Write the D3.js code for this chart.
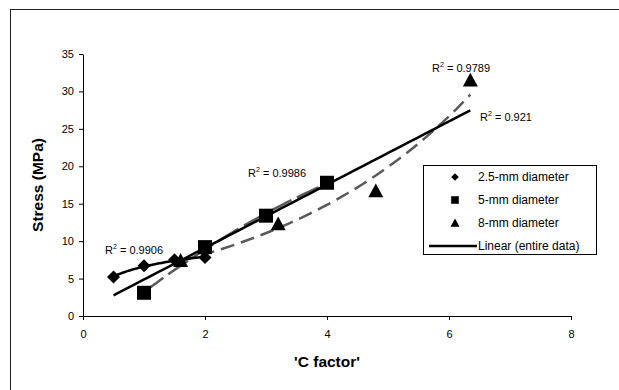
<!DOCTYPE html>
<html>
<head>
<meta charset="utf-8">
<script src="https://cdn.jsdelivr.net/npm/d3@7"></script>
<style>
  body { margin: 0; background: white; }
  text { font-family: "Liberation Sans", Arial, sans-serif; }
</style>
</head>
<body>
<div id="chart"></div>
<script>
// datos
var series = ["2.5-mm diameter", "5-mm diameter", "8-mm diameter"];
var d25x = [0.5, 1.0, 1.5, 2.0];
var d25y = [5.2, 6.7, 7.5, 7.8];
var d5x = [1.0, 2.0, 3.0, 4.0];
var d5y = [3.1, 9.2, 13.4, 17.8];
var d8x = [1.6, 3.2, 4.8, 6.35];
var d8y = [7.4, 12.3, 16.7, 31.5];
var r2Labels = ["0.9906", "0.9986", "0.9789", "0.921"];
var xTicks = [0, 2, 4, 6, 8];
var yTicks = [0, 5, 10, 15, 20, 25, 30, 35];

var width = 619, height = 390;
var margin = { top: 54, left: 83, right: 48, bottom: 74 };

var svg = d3.select("#chart").append("svg")
  .attr("width", width)
  .attr("height", height);

// marco exterior
svg.append("rect")
  .attr("x", 10.5).attr("y", 9.5)
  .attr("width", 700).attr("height", 500)
  .attr("fill", "none").attr("stroke", "#222").attr("stroke-width", 1);

var x = d3.scaleLinear().domain([0, 8]).range([margin.left, width - margin.right]);
var y = d3.scaleLinear().domain([0, 35]).range([height - margin.bottom, margin.top]);

// ejes
var ejeX = svg.append("g")
  .attr("transform", "translate(0," + y(0) + ")")
  .call(d3.axisBottom(x).tickValues(xTicks).tickSize(4).tickPadding(10).tickSizeOuter(0));
var ejeY = svg.append("g")
  .attr("transform", "translate(" + x(0) + ",0)")
  .call(d3.axisLeft(y).tickValues(yTicks).tickSize(4).tickPadding(5).tickSizeOuter(0));
[ejeX, ejeY].forEach(function (g) {
  g.selectAll("text").style("font-size", "11px").attr("fill", "#000")
    .style("font-family", "'Liberation Sans', Arial, sans-serif");
  g.selectAll("line,path").attr("stroke", "#000");
});

svg.append("text")
  .attr("x", (x(0) + x(8)) / 2).attr("y", 367)
  .attr("text-anchor", "middle")
  .style("font-size", "15.5px").style("font-weight", "bold")
  .text("'C factor'");
svg.append("text")
  .attr("transform", "translate(43," + ((y(0) + y(35)) / 2) + ") rotate(-90)")
  .attr("text-anchor", "middle")
  .style("font-size", "15.5px").style("font-weight", "bold")
  .text("Stress (MPa)");

// ajustes de tendencia (calculados a partir de los datos)
function linFit(xs, ys) {
  var mx = d3.mean(xs), my = d3.mean(ys);
  var sxy = d3.sum(xs, function (v, i) { return (v - mx) * (ys[i] - my); });
  var sxx = d3.sum(xs, function (v) { return (v - mx) * (v - mx); });
  var b = sxy / sxx;
  return { a: my - b * mx, b: b };
}
function polyFit2(xs, ys) {
  // minimos cuadrados y = c0 + c1 x + c2 x^2
  var s = [0, 0, 0, 0, 0], t = [0, 0, 0];
  xs.forEach(function (v, i) {
    for (var k = 0; k < 5; k++) s[k] += Math.pow(v, k);
    for (var k = 0; k < 3; k++) t[k] += ys[i] * Math.pow(v, k);
  });
  var m = [[s[0], s[1], s[2], t[0]], [s[1], s[2], s[3], t[1]], [s[2], s[3], s[4], t[2]]];
  for (var i = 0; i < 3; i++) {
    for (var j = i + 1; j < 3; j++) {
      var f = m[j][i] / m[i][i];
      for (var k = i; k < 4; k++) m[j][k] -= f * m[i][k];
    }
  }
  var c = [0, 0, 0];
  for (var i = 2; i >= 0; i--) {
    var acc = m[i][3];
    for (var k = i + 1; k < 3; k++) acc -= m[i][k] * c[k];
    c[i] = acc / m[i][i];
  }
  return c;
}

var logF = linFit(d25x.map(Math.log), d25y);
var polyF = polyFit2(d5x, d5y);
var expF = linFit(d8x, d8y.map(Math.log));
var allX = d25x.concat(d5x, d8x), allY = d25y.concat(d5y, d8y);
var linF = linFit(allX, allY);

function curve(x0, x1, fn) {
  return d3.range(0, 41).map(function (i) {
    var xv = x0 + (x1 - x0) * i / 40;
    return [xv, fn(xv)];
  });
}
var line = d3.line().x(function (d) { return x(d[0]); }).y(function (d) { return y(d[1]); });

var trends = [
  { pts: curve(d5x[0], d5x[3], function (v) { return polyF[0] + polyF[1] * v + polyF[2] * v * v; }), stroke: "#5a5a5a", dash: "24,6" },
  { pts: curve(d8x[0], d8x[3], function (v) { return Math.exp(expF.a + expF.b * v); }), stroke: "#5a5a5a", dash: "14,7" },
  { pts: curve(d25x[0], d25x[3], function (v) { return logF.a + logF.b * Math.log(v); }), stroke: "#000", dash: null },
  { pts: curve(d3.min(allX), d3.max(allX), function (v) { return linF.a + linF.b * v; }), stroke: "#000", dash: null }
];
svg.selectAll(".trend").data(trends).enter().append("path")
  .attr("class", "trend")
  .attr("d", function (d) { return line(d.pts); })
  .attr("fill", "none")
  .attr("stroke", function (d) { return d.stroke; })
  .attr("stroke-width", 2.5)
  .attr("stroke-dasharray", function (d) { return d.dash; });

// marcadores
function shape(kind, s) {
  if (kind === 0) return "M0," + (-s) + "L" + s + ",0L0," + s + "L" + (-s) + ",0Z";
  if (kind === 1) return "M" + (-s) + "," + (-s) + "H" + s + "V" + s + "H" + (-s) + "Z";
  return "M0," + (-s) + "L" + s + "," + (s * 0.85) + "L" + (-s) + "," + (s * 0.85) + "Z";
}
var groups = [[d25x, d25y], [d5x, d5y], [d8x, d8y]];
var sizes = [6.5, 7, 7.5];
groups.forEach(function (g, k) {
  svg.selectAll(".m" + k).data(g[0]).enter().append("path")
    .attr("class", "m" + k)
    .attr("transform", function (d, i) { return "translate(" + x(d) + "," + y(g[1][i]) + ")"; })
    .attr("d", shape(k, sizes[k]))
    .attr("fill", "#000");
});

// etiquetas R²
var r2Pos = [[105, 254], [248, 177], [432, 72], [480, 121]];
r2Labels.forEach(function (lab, i) {
  var t = svg.append("text")
    .attr("x", r2Pos[i][0]).attr("y", r2Pos[i][1])
    .style("font-size", "11px");
  t.append("tspan").text("R");
  t.append("tspan").attr("dy", -5).style("font-size", "7px").text("2");
  t.append("tspan").attr("dy", 5).text(" = " + lab);
});

// leyenda
var leg = svg.append("g");
leg.append("rect")
  .attr("x", 423.5).attr("y", 165.5).attr("width", 173).attr("height", 89)
  .attr("fill", "white").attr("stroke", "#000");
var legY = [177, 200, 223, 246];
series.forEach(function (s, k) {
  leg.append("path")
    .attr("transform", "translate(455," + legY[k] + ")")
    .attr("d", shape(k, k === 2 ? 4.5 : 3.8))
    .attr("fill", "#000");
  leg.append("text").attr("x", 478).attr("y", legY[k] + 4).style("font-size", "12px").text(s);
});
leg.append("line")
  .attr("x1", 429).attr("x2", 477).attr("y1", legY[3]).attr("y2", legY[3])
  .attr("stroke", "#000").attr("stroke-width", 2.5);
leg.append("text").attr("x", 478).attr("y", legY[3] + 4).style("font-size", "12px").text("Linear (entire data)");
</script>
</body>
</html>
